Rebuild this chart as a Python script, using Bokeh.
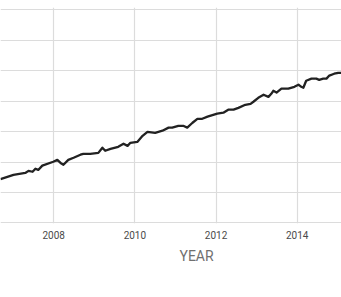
from bokeh.plotting import figure
from bokeh.models import FixedTicker, Range1d, Title
from bokeh.embed import file_html
from bokeh.resources import INLINE

years = [2006.69, 2007.01, 2007.30, 2007.38, 2007.48, 2007.55, 2007.62, 2007.72, 2007.99,
         2008.09, 2008.17, 2008.24, 2008.36, 2008.49, 2008.66, 2008.73, 2008.90, 2009.10,
         2009.20, 2009.27, 2009.40, 2009.59, 2009.72, 2009.82, 2009.89, 2010.06, 2010.19,
         2010.31, 2010.50, 2010.68, 2010.83, 2010.92, 2011.07, 2011.19, 2011.29, 2011.42,
         2011.54, 2011.66, 2011.79, 2012.03, 2012.18, 2012.30, 2012.43, 2012.55, 2012.72,
         2012.85, 2012.92, 2013.04, 2013.17, 2013.29, 2013.36, 2013.41, 2013.49, 2013.61,
         2013.78, 2013.93, 2014.03, 2014.10, 2014.15, 2014.22, 2014.35, 2014.47, 2014.54,
         2014.64, 2014.72, 2014.79, 2014.91, 2015.01, 2015.09]
values = [194.4, 195.8, 196.4, 197.1, 196.8, 197.8, 197.4, 198.8, 200.1,
          200.7, 199.7, 199.1, 200.7, 201.4, 202.4, 202.7, 202.7, 203.0,
          204.7, 203.7, 204.3, 205.0, 206.0, 205.3, 206.3, 206.6, 208.6,
          209.9, 209.6, 210.3, 211.3, 211.3, 211.9, 211.9, 211.3, 212.9,
          214.2, 214.2, 214.9, 215.9, 216.2, 217.2, 217.2, 217.8, 218.8,
          219.1, 219.8, 221.1, 222.1, 221.4, 222.4, 223.4, 222.8, 224.1,
          224.1, 224.7, 225.4, 224.7, 224.4, 226.7, 227.4, 227.4, 227.0,
          227.4, 227.4, 228.4, 229.0, 229.3, 229.3]
x_ticks = [2006, 2008, 2010, 2012, 2014, 2016]
y_ticks = [180, 190, 200, 210, 220, 230, 240, 250]
x_label = "YEAR"

FONT = "Roboto"

p = figure(width=341, height=297, output_backend="svg", toolbar_location=None,
           x_range=Range1d(2006.69, 2015.09), y_range=Range1d(179.8, 250.76),
           min_border_left=0, min_border_right=0, min_border_top=7, min_border_bottom=74)
p.outline_line_color = None
p.background_fill_color = "white"
p.border_fill_color = "white"

p.line(years, values, line_color="#222222", line_width=2.3, line_join="round")

p.yaxis.visible = False
p.xaxis.ticker = FixedTicker(ticks=x_ticks)
p.yaxis.ticker = FixedTicker(ticks=y_ticks)
p.xgrid.ticker = FixedTicker(ticks=x_ticks)
p.ygrid.ticker = FixedTicker(ticks=y_ticks)
p.grid.grid_line_color = "#dcdcdc"
p.grid.grid_line_width = 1.2
p.xaxis.axis_line_color = None
p.xaxis.major_tick_line_color = None
p.xaxis.minor_tick_line_color = None
p.xaxis.major_tick_out = 0
p.xaxis.major_label_standoff = 7
p.xaxis.major_label_text_font = FONT
p.xaxis.major_label_text_font_size = "10px"
p.xaxis.major_label_text_color = "#4a4a4a"

t = Title(text=x_label, align="left", offset=179, standoff=9,
          text_font=FONT, text_font_size="14px", text_font_style="normal",
          text_color="#707070")
p.add_layout(t, "below")

open("out.html", "w").write(file_html(p, INLINE))
